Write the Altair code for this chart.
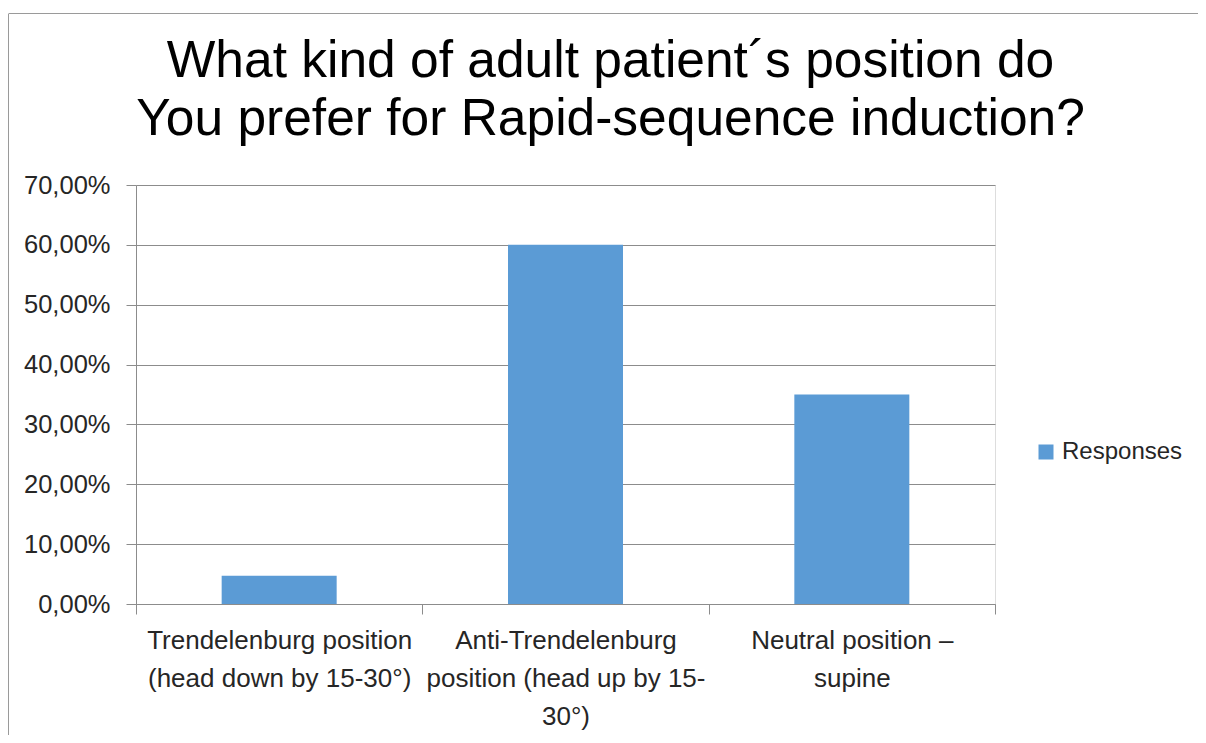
import altair as alt
import pandas as pd

categories = [
    "Trendelenburg position|(head down by 15-30°)",
    "Anti-Trendelenburg|position (head up by 15-|30°)",
    "Neutral position –|supine",
]
values = [0.047, 0.60, 0.35]
series_name = "Responses"
y_ticks = [0.0, 0.1, 0.2, 0.3, 0.4, 0.5, 0.6, 0.7]
title_lines = [
    "What kind of adult patient´s position do",
    "You prefer for Rapid-sequence induction?",
]

df = pd.DataFrame({"category": categories, "value": values, "series": [series_name] * len(values)})

FONT = "Liberation Sans"
GRID = "#8c8c8c"

bars = alt.Chart(df).mark_bar(size=115).encode(
    x=alt.X(
        "category:N",
        sort=None,
        scale=alt.Scale(paddingInner=0, paddingOuter=0),
        axis=alt.Axis(
            title=None,
            labelAngle=0,
            labelExpr="split(datum.label, '|')",
            tickBand="extent",
            tickSize=10,
            tickColor=GRID,
            domainColor=GRID,
            labelFont=FONT,
            labelFontSize=26,
            labelColor="#262626",
            labelLineHeight=38,
            labelPadding=13,
            labelLimit=400,
            grid=False,
        ),
    ),
    y=alt.Y(
        "value:Q",
        scale=alt.Scale(domain=[0, 0.7]),
        axis=alt.Axis(
            title=None,
            values=y_ticks,
            labelExpr="replace(format(datum.value, '.2%'), '.', ',')",
            tickSize=10,
            tickColor=GRID,
            domainColor=GRID,
            gridColor=GRID,
            labelFont=FONT,
            labelFontSize=25.5,
            labelColor="#262626",
            labelPadding=16,
        ),
    ),
    color=alt.Color(
        "series:N",
        scale=alt.Scale(range=["#5B9BD5"]),
        legend=alt.Legend(
            title=None,
            orient="none",
            legendX=898,
            legendY=255,
            symbolType="square",
            symbolSize=225,
            symbolStrokeWidth=0,
            labelFont=FONT,
            labelFontSize=24,
            labelColor="#262626",
            labelOffset=4,
        ),
    ),
)

frame_df = pd.DataFrame({"k": [0]})
frame_left = alt.Chart(frame_df).mark_rule(color="#9a9a9a", strokeWidth=1).encode(
    x=alt.value(-127.5), y=alt.value(-171), y2=alt.value(560)
)
frame_top = alt.Chart(frame_df).mark_rule(color="#9a9a9a", strokeWidth=1).encode(
    x=alt.value(-127.5), x2=alt.value(1100), y=alt.value(-171.5)
)

chart = alt.layer(frame_left, frame_top, bars).properties(
    width=859,
    height=419,
    autosize=alt.AutoSizeParams(type="none"),
    padding={"left": 128, "top": 177, "right": 203, "bottom": 131},
    title=alt.TitleParams(
        title_lines,
        font=FONT,
        fontSize=51.5,
        fontWeight="normal",
        color="#000000",
        lineHeight=58,
        anchor="middle",
        baseline="alphabetic",
        dx=45,
        offset=-173,
    ),
).configure_view(stroke=None).configure(background="white")

chart.save("out.html", embed_options={"renderer": "svg", "actions": False})
